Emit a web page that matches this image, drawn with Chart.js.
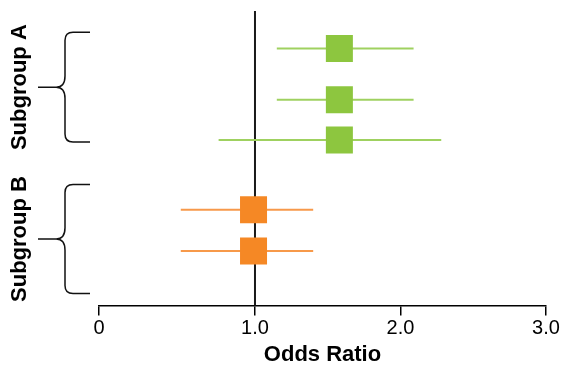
<!DOCTYPE html>
<html>
<head>
<meta charset="utf-8">
<script src="https://cdn.jsdelivr.net/npm/chart.js@4"></script>
<style>
html,body{margin:0;padding:0;background:#fff;}
#wrap{width:562px;height:368px;position:relative;}
</style>
</head>
<body>
<div id="wrap"><canvas id="c"></canvas></div>
<script>
// ---- data ----
const groups = ["Subgroup A", "Subgroup B"];
const rowGroup = [0, 0, 0, 1, 1];
const rowPos = [1.27, 3.01, 4.38, 6.75, 8.15];      // vertical slot of each row
const oddsRatio = [1.58, 1.58, 1.58, 0.99, 0.99];
const ciLow = [1.15, 1.15, 0.75, 0.49, 0.49];
const ciHigh = [2.09, 2.09, 2.28, 1.40, 1.40];
const bracketTop = [0.72, 5.89];
const bracketBottom = [4.45, 9.59];
const xTicks = [-0.072, 1, 2, 3];
const xTickLabels = ["0", "1.0", "2.0", "3.0"];
const refValue = 1.0;

const groupColor = ["#8dc63f", "#f58825"];
const whiskerColor = ["#9fd160", "#f7994a"];
const FONT = "'Liberation Sans', Arial, Helvetica, sans-serif";

const datasets = [];
// squares
groups.forEach((g, gi) => {
  const pts = [];
  rowPos.forEach((p, i) => { if (rowGroup[i] === gi) pts.push({x: oddsRatio[i], y: p}); });
  datasets.push({
    type: 'scatter', label: g, data: pts, order: 0,
    pointStyle: 'rect', pointRadius: 19.1, pointHoverRadius: 19.1,
    backgroundColor: groupColor[gi], borderWidth: 0
  });
});
// whiskers
rowPos.forEach((p, i) => {
  datasets.push({
    type: 'line', label: 'ci' + i, order: 1,
    data: [{x: ciLow[i], y: p}, {x: ciHigh[i], y: p}],
    borderColor: whiskerColor[rowGroup[i]], borderWidth: 2,
    pointRadius: 0, fill: false
  });
});

const decor = {
  id: 'decor',
  beforeDatasetsDraw(chart) {
    const {ctx, chartArea, scales} = chart;
    const x = scales.x.getPixelForValue(refValue);
    ctx.save();
    ctx.strokeStyle = '#1a1a1a';
    ctx.lineWidth = 2;
    ctx.beginPath();
    ctx.moveTo(x, chartArea.top);
    ctx.lineTo(x, chartArea.bottom);
    ctx.stroke();
    ctx.restore();
  },
  afterDraw(chart) {
    const {ctx, scales} = chart;
    const ys = scales.y;
    ctx.save();
    groups.forEach((g, gi) => {
      const top = ys.getPixelForValue(bracketTop[gi]);
      const bot = ys.getPixelForValue(bracketBottom[gi]);
      const mid = (top + bot) / 2;
      const xr = 90, xv = 65, xl = 38, r = 8;
      ctx.strokeStyle = '#111';
      ctx.lineWidth = 1.5;
      ctx.beginPath();
      ctx.moveTo(xr, top);
      ctx.lineTo(xv + r, top);
      ctx.quadraticCurveTo(xv, top, xv, top + r);
      ctx.lineTo(xv, mid - r * 1.4);
      ctx.quadraticCurveTo(xv, mid, xv - r * 1.1, mid);
      ctx.lineTo(xl, mid);
      ctx.moveTo(xv - r * 1.1, mid);
      ctx.quadraticCurveTo(xv, mid, xv, mid + r * 1.4);
      ctx.lineTo(xv, bot - r);
      ctx.quadraticCurveTo(xv, bot, xv + r, bot);
      ctx.lineTo(xr, bot);
      ctx.stroke();
      ctx.save();
      ctx.translate(20, mid);
      ctx.rotate(-Math.PI / 2);
      ctx.fillStyle = '#000';
      ctx.font = 'bold 22px ' + FONT;
      ctx.textAlign = 'center';
      ctx.textBaseline = 'middle';
      ctx.fillText(g, 0, 0);
      ctx.restore();
    });
    ctx.restore();
  }
};

new Chart(document.getElementById('c'), {
  data: { datasets },
  options: {
    responsive: true, maintainAspectRatio: false, animation: false,
    layout: { autoPadding: false, padding: { top: 11, left: 99, right: 16, bottom: 0 } },
    plugins: { legend: { display: false }, tooltip: { enabled: false } },
    scales: {
      x: {
        type: 'linear', min: xTicks[0], max: xTicks[xTicks.length - 1],
        afterBuildTicks(scale) { scale.ticks = xTicks.map(v => ({value: v})); },
        ticks: {
          color: '#000', padding: 1, maxRotation: 0, autoSkip: false,
          font: { family: FONT, size: 20 },
          callback(v) { const i = xTicks.indexOf(v); return i >= 0 ? xTickLabels[i] : ''; }
        },
        grid: { display: true, drawOnChartArea: false, drawTicks: true, tickLength: 10, color: '#000', lineWidth: 1.5 },
        border: { display: true, color: '#000', width: 1.5 },
        title: { display: true, text: 'Odds Ratio', color: '#000', font: { family: FONT, size: 22, weight: 'bold' }, padding: { top: 0, bottom: 0 } }
      },
      y: {
        type: 'linear', display: false, reverse: true, min: 0, max: 10
      }
    }
  },
  plugins: [decor]
});
</script>
</body>
</html>
